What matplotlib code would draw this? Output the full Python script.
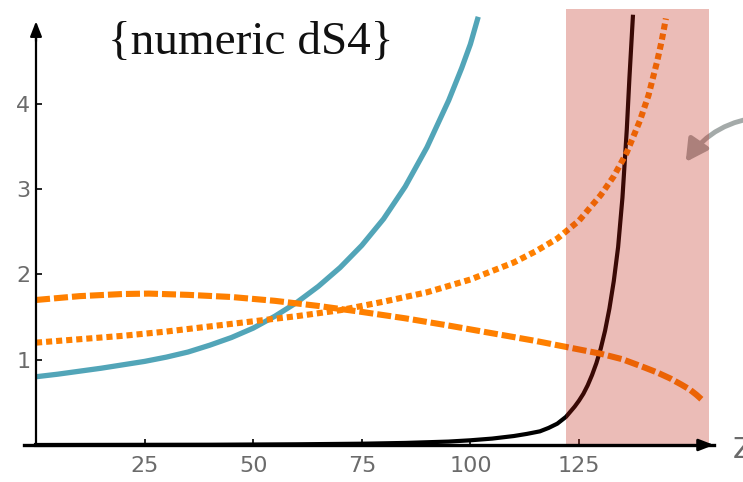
import matplotlib
matplotlib.use('Agg')
import matplotlib.pyplot as plt

# values
z_teal = [0, 5, 10, 15, 20, 25, 30, 35, 40, 45, 50, 55, 60, 65, 70, 75, 80, 85, 90, 95, 98, 100, 101.8]
y_teal = [0.80, 0.83, 0.865, 0.90, 0.94, 0.98, 1.03, 1.09, 1.17, 1.26, 1.37, 1.51, 1.67, 1.86, 2.08, 2.34, 2.65, 3.03, 3.49, 4.04, 4.42, 4.70, 5.02]

z_dash = [0, 10, 20, 26, 35, 45, 55, 65, 75, 85, 95, 105, 115, 125, 130, 135, 140, 143, 146, 148.5, 150.5, 152, 153.2]
y_dash = [1.70, 1.745, 1.77, 1.775, 1.76, 1.735, 1.69, 1.63, 1.56, 1.485, 1.40, 1.31, 1.22, 1.12, 1.07, 1.005, 0.91, 0.85, 0.78, 0.71, 0.65, 0.59, 0.535]

z_dot = [0, 10, 20, 30, 40, 50, 60, 70, 80, 90, 100, 110, 115, 120, 125, 130, 133, 136, 139, 141, 143, 144, 145]
y_dot = [1.20, 1.24, 1.28, 1.33, 1.39, 1.45, 1.51, 1.58, 1.68, 1.79, 1.94, 2.14, 2.27, 2.42, 2.63, 2.93, 3.15, 3.43, 3.80, 4.10, 4.50, 4.73, 5.00]

z_blk = [0, 40, 60, 75, 85, 95, 100, 105, 110, 113, 116, 118, 120, 121, 122, 123, 124, 125, 126, 127,
         128, 129, 130, 131, 132, 133, 134, 135, 136, 136.6, 137.4]
y_blk = [0.0, 0.003, 0.008, 0.015, 0.024, 0.04, 0.055, 0.075, 0.105, 0.13, 0.16, 0.20, 0.25, 0.29, 0.33, 0.39, 0.45, 0.52, 0.60, 0.70,
         0.82, 0.96, 1.13, 1.34, 1.60, 1.92, 2.32, 2.90, 3.70, 4.30, 5.02]

band = [122.1, 154.9]
yticks = [1, 2, 3, 4]
xticks = [25, 50, 75, 100, 125]

fig = plt.figure(figsize=(7.43, 4.82), dpi=100)
ax = fig.add_axes([0, 0, 1, 1])
ax.set_xlim(-8.29, 162.75)
ax.set_ylim(-0.434, 5.217)

teal = '#52a5b8'
orange = '#ff8000'

ax.plot(z_teal, y_teal, color=teal, lw=3.8, solid_capstyle='butt', zorder=3)
ax.plot(z_blk, y_blk, color='black', lw=3.0, zorder=3)
ax.plot(z_dash, y_dash, color=orange, lw=4.4, dashes=(2.3, 0.65), zorder=4)
ax.plot(z_dot, y_dot, color=orange, lw=4.4, dashes=(1.0, 0.65), zorder=4)

# gray arrow coming in from the right
ax.annotate('', xy=(149.2, 3.29), xytext=(168, 3.85),
            arrowprops=dict(arrowstyle='-|>,head_length=1.3,head_width=0.7',
                            color='#a4aaa9', lw=3.5,
                            connectionstyle='arc3,rad=0.25'),
            annotation_clip=False, zorder=5)

# shaded band drawn on top
ax.fill_between(band, [0, 0], [5.11, 5.11], color=(0.75, 0.13, 0.07), alpha=0.3, lw=0, zorder=6)

# axes through the origin
for s in ['top', 'right']:
    ax.spines[s].set_visible(False)
ax.spines['left'].set_position(('data', 0))
ax.spines['bottom'].set_position(('data', 0))
ax.spines['left'].set_bounds(0, 4.9)
ax.spines['bottom'].set_bounds(-2.8, 156)
ax.spines['left'].set_linewidth(1.6)
ax.spines['bottom'].set_linewidth(2.4)
ax.spines['left'].set_zorder(7)
ax.spines['bottom'].set_zorder(7)
ax.annotate('', xy=(0, 5.0), xytext=(0, 4.7),
            arrowprops=dict(arrowstyle='-|>,head_length=0.9,head_width=0.35', color='black', lw=1.6),
            zorder=8)
ax.annotate('', xy=(156.7, 0), xytext=(152, 0),
            arrowprops=dict(arrowstyle='-|>,head_length=0.9,head_width=0.35', color='black', lw=2.0),
            annotation_clip=False, zorder=8)

ax.set_yticks(yticks)
ax.set_xticks(xticks)
ax.set_yticklabels([str(v) for v in yticks])
ax.set_xticklabels([str(v) for v in xticks])
ax.tick_params(axis='both', direction='in', length=4.5, width=1.2, colors='black',
               labelcolor='#6b6b6b', labelsize=16)
ax.tick_params(axis='x', pad=8)
ax.tick_params(axis='y', pad=4)

ax.text(160.5, -0.06, 'Z', color='#6b6b6b', fontsize=21, ha='left', va='center')
ax.text(16.5, 4.72, '{numeric dS4}', fontsize=34, color='#111111',
        family=['Liberation Serif', 'DejaVu Serif'], ha='left', va='center')

fig.savefig('out.png', dpi=100)
